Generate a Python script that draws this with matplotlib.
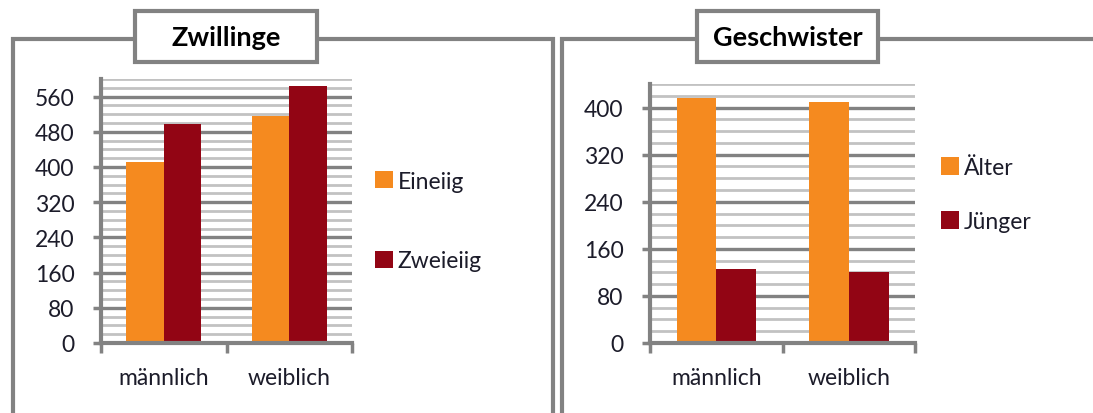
import matplotlib.pyplot as plt
from matplotlib.patches import Rectangle
import numpy as np

# data
categories = ["männlich", "weiblich"]

zwillinge_labels = ["Eineiig", "Zweieiig"]
eineiig = [411, 516]
zweieiig = [498, 584]

geschwister_labels = ["Älter", "Jünger"]
aelter = [416, 410]
juenger = [126, 120]

ORANGE = "#f58a1f"
DARKRED = "#920514"
GRAY = "#828282"
LIGHT = "#c2c2c2"
TEXT = "#1c1c2a"

W, H = 1093, 414
plt.rcParams['font.family'] = ['Lato', 'DejaVu Sans']


def fx(x):
    return x / W


def fy(y):
    return 1 - y / H


def draw_frame(fig, x0, x1, box_x0, box_x1, title):
    fig.add_artist(Rectangle((fx(x0), fy(430)), fx(x1 - x0), (430 - 40) / H,
                             transform=fig.transFigure, fill=False,
                             edgecolor=GRAY, lw=3, zorder=1))
    fig.add_artist(Rectangle((fx(box_x0), fy(63)), fx(box_x1 - box_x0), 51 / H,
                             transform=fig.transFigure, facecolor="white",
                             edgecolor=GRAY, lw=3, zorder=2))
    fig.text(fx((box_x0 + box_x1) / 2), fy(38), title, ha="center", va="center",
             fontsize=19.5, fontweight="bold", color="black", zorder=3)


def draw_panel(ax, a, b, labels, ymax, yticks_max):
    x = np.arange(len(categories))
    ax.bar(x - 0.15, a, width=0.3, color=ORANGE, label=labels[0], zorder=3)
    ax.bar(x + 0.15, b, width=0.3, color=DARKRED, label=labels[1], zorder=3)
    ax.set_xlim(-0.5, 1.5)
    ax.set_ylim(0, ymax)

    # gridlines: light every 20, dark every 80
    for v in np.arange(20, ymax + 1, 20):
        if v % 80 == 0:
            ax.axhline(v, color=GRAY, lw=2.4, zorder=1)
        else:
            ax.axhline(v, color=LIGHT, lw=2.0, zorder=1)

    ax.set_yticks(np.arange(0, yticks_max + 1, 80))
    ax.tick_params(axis="y", direction="out", length=6, width=2.5, color=GRAY,
                   labelsize=16.5, labelcolor=TEXT, pad=13)
    ax.set_xticks([-0.5, 0.5, 1.5])
    ax.set_xticklabels([])
    ax.tick_params(axis="x", which="major", direction="out", length=7, width=2.5, color=GRAY)
    ax.set_xticks(x, minor=True)
    ax.set_xticklabels(categories, minor=True)
    ax.tick_params(axis="x", which="minor", length=0, labelsize=16.5,
                   labelcolor=TEXT, pad=17)

    for s in ["top", "right"]:
        ax.spines[s].set_visible(False)
    for s in ["left", "bottom"]:
        ax.spines[s].set_color(GRAY)
        ax.spines[s].set_linewidth(3)
        ax.spines[s].set_zorder(4)


def add_legend(ax, fig, x, y, spacing):
    ax.legend(loc="center left", bbox_to_anchor=(fx(x), fy(y)),
              bbox_transform=fig.transFigure, frameon=False, fontsize=16.5,
              handlelength=0.78, handleheight=0.78, handletextpad=0.22,
              borderpad=0, borderaxespad=0,
              labelspacing=spacing, labelcolor=TEXT)


fig = plt.figure(figsize=(W / 100, H / 100), dpi=100)

draw_frame(fig, 13, 553, 135, 317, "Zwillinge")
draw_frame(fig, 562, 1110, 697, 878, "Geschwister")

ax1 = fig.add_axes([fx(101), fy(344), fx(251), (344 - 80) / H])
draw_panel(ax1, eineiig, zweieiig, zwillinge_labels, 600, 560)
add_legend(ax1, fig, 375, 222, 2.57)

ax2 = fig.add_axes([fx(650), fy(344), fx(265), (344 - 85) / H])
draw_panel(ax2, aelter, juenger, geschwister_labels, 440, 400)
add_legend(ax2, fig, 941, 195.5, 1.44)

fig.savefig("out.png", dpi=100)
